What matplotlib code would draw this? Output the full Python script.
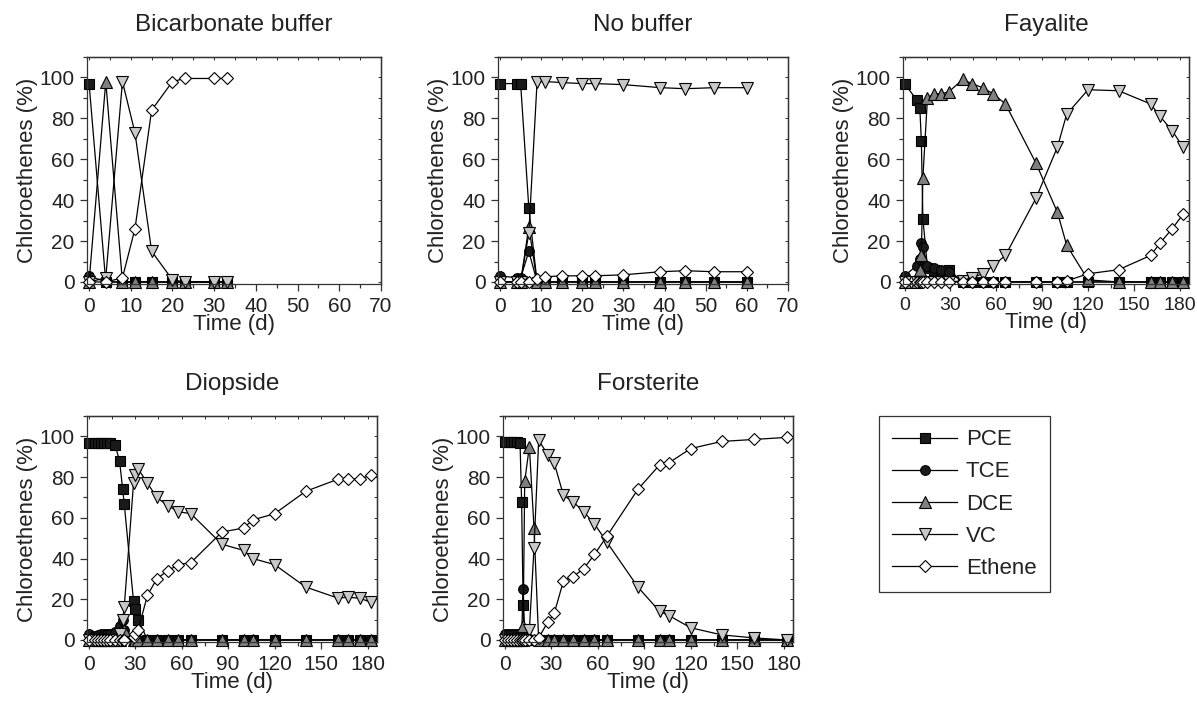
import matplotlib
matplotlib.use('Agg')
import matplotlib.pyplot as plt
from matplotlib.lines import Line2D
from matplotlib.ticker import MultipleLocator

plt.rcParams['font.family'] = ['Liberation Sans', 'DejaVu Sans']

species = ['PCE', 'TCE', 'DCE', 'VC', 'Ethene']

# Bicarbonate buffer
bic_t = [0, 4, 8, 11, 15, 20, 23, 30, 33]
bic_pce = [97, 0, 0, 0, 0, 0, 0, 0, 0]
bic_tce = [3, 0, 0, 0, 0, 0, 0, 0, 0]
bic_dce = [0, 98, 0, 0, 0, 0, 0, 0, 0]
bic_vc = [0, 2, 98, 73, 15, 1, 0, 0, 0]
bic_eth = [0, 0, 2, 26, 84, 98, 99.5, 99.5, 99.5]

# No buffer
nob_t = [0, 4, 5, 7, 9, 11, 15, 20, 23, 30, 39, 45, 52, 60]
nob_pce = [97, 97, 97, 36, 0, 0, 0, 0, 0, 0, 0, 0, 0, 0]
nob_tce = [3, 2, 2, 15, 0, 0, 0, 0, 0, 0, 0, 0, 0, 0]
nob_dce = [0, 0, 0, 27, 0, 0, 0, 0, 0, 0, 0, 0, 0, 0]
nob_vc = [0, 0, 0, 24, 98, 98, 97.5, 97, 97, 96.5, 95, 94.5, 95, 95]
nob_eth = [0, 0, 0, 0, 1.5, 2.5, 3, 3, 3, 3.5, 5, 5.5, 5, 5]

# Fayalite
fay_t = [0, 8, 10, 11, 12, 15, 19, 24, 29, 38, 44, 51, 58, 66, 86, 100, 106,
         120, 140, 161, 167, 175, 182]
fay_pce = [97, 89, 85, 69, 31, 7, 6, 5.5, 6, 0, 0, 0, 0, 0, 0, 0, 0,
           0, 0, 0, 0, 0, 0]
fay_tce = [3, 8, 11, 19, 17, 8, 7, 6, 5, 0, 0, 0, 0, 0, 0, 0, 0,
           0, 0, 0, 0, 0, 0]
fay_dce = [0, 0, 6, 13, 51, 90, 92, 92, 93, 99, 97, 95, 92, 87, 58, 34, 18,
           1, 0, 0, 0, 0, 0]
fay_vc = [0, 0, 0, 0, 0, 0, 0, 0, 0, 0.5, 2, 4, 8, 13, 41, 66, 82,
          94, 93.5, 87, 81, 74, 66]
fay_eth = [0, 0, 0, 0, 0, 0, 0, 0, 0, 0, 0, 0, 0, 0, 0, 0, 0.5,
           4, 6, 13, 19, 26, 33]

# Diopside
dio_t = [0, 4, 6, 8, 10, 12, 14, 17, 20, 22, 23, 29, 30, 32, 38, 44, 51, 58,
         66, 86, 100, 106, 120, 140, 161, 167, 175, 182]
dio_pce = [96.5, 96.5, 96.5, 96.5, 96.5, 96.5, 96.5, 96, 88, 74, 67, 19, 15,
           10, 0, 0, 0, 0, 0, 0, 0, 0, 0, 0, 0, 0, 0, 0]
dio_tce = [3, 2, 2.5, 3, 3, 3, 3, 4, 7, 10, 5, 0, 0, 0, 0, 0, 0, 0,
           0, 0, 0, 0, 0, 0, 0, 0, 0, 0]
dio_dce = [0, 0, 0, 0, 0, 0, 0, 0, 0, 2, 5, 0, 0, 0, 0, 0, 0, 0,
           0, 0, 0, 0, 0, 0, 0, 0, 0, 0]
dio_vc = [0, 0, 0, 0, 0, 0, 0, 0, 3, 10, 16, 77, 81, 84, 77, 70, 66, 63,
          62, 47, 44, 40, 37, 26, 20.5, 21, 20.5, 18.5]
dio_eth = [0, 0, 0, 0, 0, 0, 0, 0, 0, 0, 0, 1.5, 3, 5, 22, 30, 34, 37,
           38, 53, 55, 59, 62, 73, 79, 79, 79, 81]

# Forsterite
for_t = [0, 2, 4, 6, 8, 10, 11, 12, 13, 16, 19, 22, 28, 32, 38, 44, 51, 58,
         66, 86, 100, 106, 120, 140, 161, 182]
for_pce = [97, 97, 97, 97, 97, 96.5, 68, 17, 0, 0, 0, 0, 0, 0, 0, 0, 0, 0,
           0, 0, 0, 0, 0, 0, 0, 0]
for_tce = [3, 3, 3, 3, 3, 3, 3, 25, 0, 0, 0, 0, 0, 0, 0, 0, 0, 0,
           0, 0, 0, 0, 0, 0, 0, 0]
for_dce = [0, 0, 0, 0, 0, 0, 0, 7, 78, 95, 55, 0, 0, 0, 0, 0, 0, 0,
           0, 0, 0, 0, 0, 0, 0, 0]
for_vc = [0, 0, 0, 0, 0, 0, 0, 0, 0, 5, 45, 98, 91, 87, 71, 68, 63, 57,
          48, 26, 14, 12, 6, 2.5, 1, 0]
for_eth = [0, 0, 0, 0, 0, 0, 0, 0, 0, 0, 0, 1, 9, 13, 29, 31, 35, 42,
           51, 74, 86, 87, 94, 97.5, 98.5, 99.5]

styles = {
    'PCE': dict(marker='s', markerfacecolor='#1a1a1a', markersize=6.5),
    'TCE': dict(marker='o', markerfacecolor='#1a1a1a', markersize=7),
    'DCE': dict(marker='^', markerfacecolor='#808080', markersize=8),
    'VC': dict(marker='v', markerfacecolor='#c8c8c8', markersize=8),
    'Ethene': dict(marker='D', markerfacecolor='white', markersize=6.5),
}

W, H = 1197, 703
TXT = '#222222'

panels = [
    ('Bicarbonate buffer', (87, 381, 57, 284), (-0.5, 70), 10, 5, 15,
     bic_t, [bic_pce, bic_tce, bic_dce, bic_vc, bic_eth]),
    ('No buffer', (498, 788, 57, 284), (-0.5, 70), 10, 5, 15,
     nob_t, [nob_pce, nob_tce, nob_dce, nob_vc, nob_eth]),
    ('Fayalite', (903, 1189, 57, 284), (-1, 186), 30, 15, 14,
     fay_t, [fay_pce, fay_tce, fay_dce, fay_vc, fay_eth]),
    ('Diopside', (87, 377, 416, 642), (-1, 186), 30, 15, 15,
     dio_t, [dio_pce, dio_tce, dio_dce, dio_vc, dio_eth]),
    ('Forsterite', (503, 793, 416, 642), (-1, 186), 30, 15, 15,
     for_t, [for_pce, for_tce, for_dce, for_vc, for_eth]),
]

fig = plt.figure(figsize=(W / 100, H / 100), dpi=100)

for title, (l, r, t, b), xlim, xmaj, xmin, xls, times, series in panels:
    ax = fig.add_axes([l / W, 1 - b / H, (r - l) / W, (b - t) / H])
    for name, vals in zip(species, series):
        ax.plot(times, vals, color='black', lw=0.9, markeredgecolor='black',
                markeredgewidth=0.8, clip_on=False, label=name, **styles[name])
    ax.set_xlim(*xlim)
    ax.set_ylim(-1, 110)
    ax.xaxis.set_minor_locator(MultipleLocator(xmin))
    ax.yaxis.set_minor_locator(MultipleLocator(10))
    ax.set_yticks([0, 20, 40, 60, 80, 100])
    ax.set_xticks([v for v in range(0, int(xlim[1]) + 1, xmaj)])
    ax.tick_params(which='both', direction='out', top=False, right=False,
                   colors='#333333', labelcolor=TXT, labelsize=15, width=0.9)
    ax.tick_params(axis='x', labelsize=xls)
    ax.tick_params(which='major', length=5, pad=4)
    ax.tick_params(which='minor', length=3)
    for sp in ax.spines.values():
        sp.set_linewidth(0.9)
        sp.set_color('#333333')

    # inward ticks on top and right
    top = ax.secondary_xaxis('top')
    top.xaxis.set_major_locator(MultipleLocator(xmin))
    top.tick_params(direction='in', length=2.5, labeltop=False, width=0.7,
                    colors='#333333')
    top.spines['top'].set_linewidth(0.9)
    right = ax.secondary_yaxis('right')
    right.yaxis.set_major_locator(MultipleLocator(10))
    right.tick_params(direction='in', length=2.5, labelright=False, width=0.7,
                      colors='#333333')
    right.spines['right'].set_linewidth(0.9)

    ax.set_title(title, fontsize=17.5, color=TXT, pad=19)
    ax.set_xlabel('Time (d)', fontsize=16, color=TXT, labelpad=-1)
    ax.set_ylabel('Chloroethenes (%)', fontsize=16, color=TXT, labelpad=1)

handles = [Line2D([], [], color='black', lw=0.9, markeredgecolor='black',
                  markeredgewidth=0.8, **styles[n]) for n in species]
leg = fig.legend(handles, species, loc='upper left',
                 bbox_to_anchor=(879 / W, 1 - 416 / H), borderaxespad=0,
                 fontsize=16, handlelength=2.9, labelspacing=0.5,
                 handletextpad=0.4, borderpad=0.6, fancybox=False,
                 edgecolor='#333333', framealpha=1)
leg.get_frame().set_linewidth(0.9)
for txt in leg.get_texts():
    txt.set_color(TXT)

fig.savefig('out.png', dpi=100)
